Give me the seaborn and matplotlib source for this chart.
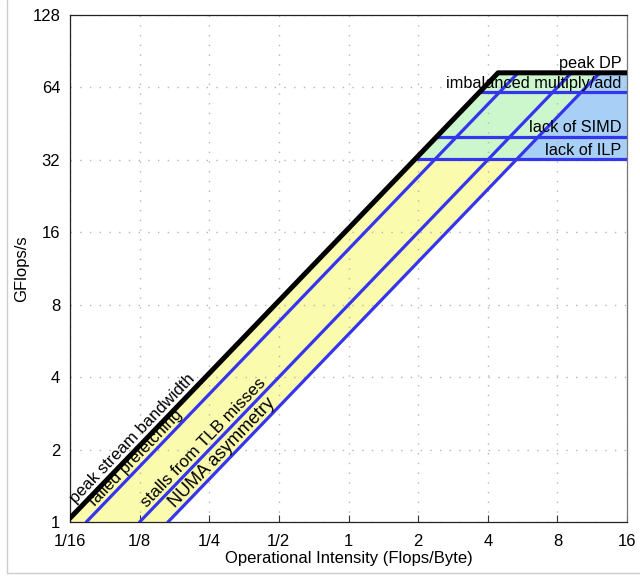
import numpy as np
import pandas as pd
import matplotlib
matplotlib.use("Agg")
import matplotlib.pyplot as plt
from matplotlib.lines import Line2D
import seaborn as sns

# ---------------- data ----------------
x_ticks = [1/16, 1/8, 1/4, 1/2, 1, 2, 4, 8, 16]
x_tick_labels = ["1/16", "1/8", "1/4", "1/2", "1", "2", "4", "8", "16"]
y_ticks = [1, 2, 4, 8, 16, 32, 64, 128]
y_tick_labels = ["1", "2", "4", "8", "16", "32", "64", "128"]

peak_dp = 73.6          # GFlops/s
peak_bw = 16.6          # GB/s (peak stream bandwidth)

compute_names = ["imbalanced multiply/add", "lack of SIMD", "lack of ILP"]
compute_values = [61.0, 40.0, 32.2]

bw_names = ["failed prefetching", "stalls from TLB misses", "NUMA asymmetry"]
bw_values = [13.6, 8.0, 6.03]

# ---------------- style ----------------
sns.set_theme(style="white")
plt.rcParams["font.family"] = ["Liberation Sans", "DejaVu Sans"]
plt.rcParams["text.color"] = "black"
plt.rcParams["axes.labelcolor"] = "black"
plt.rcParams["xtick.color"] = "black"
plt.rcParams["ytick.color"] = "black"
FS = 11.7
TFS = 12

fig = plt.figure(figsize=(6.4, 5.79), dpi=100)
ax = fig.add_axes([70/640, 1 - 522/579, (627-70)/640, (522-15)/579])

ax.set_xscale("log", base=2)
ax.set_yscale("log", base=2)
xmin, xmax = x_ticks[0], x_ticks[-1]
ymin, ymax = y_ticks[0], y_ticks[-1]
ax.set_xlim(xmin, xmax)
ax.set_ylim(ymin, ymax)

yellow = "#fbfbad"
green = "#ccf6cc"
blue = "#a8d0f6"
line_blue = "#3535ee"

ilp = min(compute_values)
bw_low = min(bw_values)

# fills
ax.fill([xmin, xmin, ilp/peak_bw, ilp/bw_low, 1/bw_low],
        [1, peak_bw*xmin, ilp, ilp, 1], color=yellow, lw=0, zorder=0.2)
ax.fill([ilp/peak_bw, peak_dp/peak_bw, peak_dp/bw_low, ilp/bw_low],
        [ilp, peak_dp, peak_dp, ilp], color=green, lw=0, zorder=0.2)
ax.fill([ilp/bw_low, peak_dp/bw_low, xmax, xmax],
        [ilp, peak_dp, peak_dp, ilp], color=blue, lw=0, zorder=0.2)

# grid (dotted, on top of fills)
ax.grid(True, which="major", color="#b5b5b5", linestyle=(0, (1, 6)), linewidth=1.0, zorder=0.5)

# compute ceilings (horizontal)
for name, c in zip(compute_names, compute_values):
    df = pd.DataFrame({"x": [c/peak_bw, xmax], "y": [c, c]})
    sns.lineplot(data=df, x="x", y="y", ax=ax, color=line_blue, lw=2.3,
                 sort=False, estimator=None, zorder=3)
    ax.annotate(name, xy=(xmax, c), xytext=(-4, 3), textcoords="offset points",
                ha="right", va="baseline", fontsize=FS, color="black", zorder=6)

# bandwidth ceilings (diagonal)
for b in bw_values:
    df = pd.DataFrame({"x": [1/b, peak_dp/b], "y": [1, peak_dp]})
    sns.lineplot(data=df, x="x", y="y", ax=ax, color=line_blue, lw=2.3,
                 sort=False, estimator=None, zorder=3)

# roofline
roof = pd.DataFrame({"x": [xmin, peak_dp/peak_bw, xmax],
                     "y": [peak_bw*xmin, peak_dp, peak_dp]})
sns.lineplot(data=roof, x="x", y="y", ax=ax, color="black", lw=3.6,
             sort=False, estimator=None, zorder=4)
ax.annotate("peak DP", xy=(xmax, peak_dp), xytext=(-4, 3.5), textcoords="offset points",
            ha="right", va="baseline", fontsize=FS, color="black", zorder=6)

# rotated labels along diagonals
fig.canvas.draw()
p0 = ax.transData.transform((1, 1))
p1 = ax.transData.transform((2, 2))
ang = np.degrees(np.arctan2(p1[1]-p0[1], p1[0]-p0[0]))
th = np.radians(ang)

def diag_label(text, b, ystart, d, fs):
    off = (-np.sin(th)*d, np.cos(th)*d)
    ax.annotate(text, xy=(ystart/b, ystart), xytext=off, textcoords="offset points",
                ha="left", va="baseline", rotation=ang, rotation_mode="anchor",
                fontsize=fs, color="black", zorder=6)

diag_label("peak stream bandwidth", peak_bw, peak_bw*xmin*1.10, 4.0, 12)
for name, b, ys, fs in zip(bw_names, bw_values, [1.12, 1.11, 1.11], [12, 12.3, 13]):
    diag_label(name, b, ys, 3.3, fs)

# ticks & labels
ax.set_xticks(x_ticks)
ax.set_xticklabels(x_tick_labels)
ax.set_yticks(y_ticks)
ax.set_yticklabels(y_tick_labels)
ax.minorticks_off()
ax.tick_params(axis="x", direction="in", length=5, width=0.8, color="#333333",
               labelsize=TFS, labelcolor="black", pad=9, bottom=True, top=False)
ax.tick_params(axis="y", length=0, labelsize=TFS, labelcolor="black", pad=7, left=True)
ax.set_xlabel("Operational Intensity (Flops/Byte)", fontsize=TFS, color="black")
ax.set_ylabel("GFlops/s", fontsize=TFS, color="black")
ax.xaxis.set_label_coords(0.5, -0.057)
ax.yaxis.set_label_coords(-0.074, 0.5)

for s in ax.spines.values():
    s.set_color("#222222")
    s.set_linewidth(0.9)
ax.spines["right"].set_color("#777777")

# light frame lines of the figure
fig.add_artist(Line2D([7/640, 7/640], [1 - 573/579, 1], transform=fig.transFigure,
                      color="#cccccc", lw=1))
fig.add_artist(Line2D([7/640, 1], [1 - 573/579, 1 - 573/579], transform=fig.transFigure,
                      color="#cccccc", lw=1))

fig.savefig("out.png", dpi=100)
